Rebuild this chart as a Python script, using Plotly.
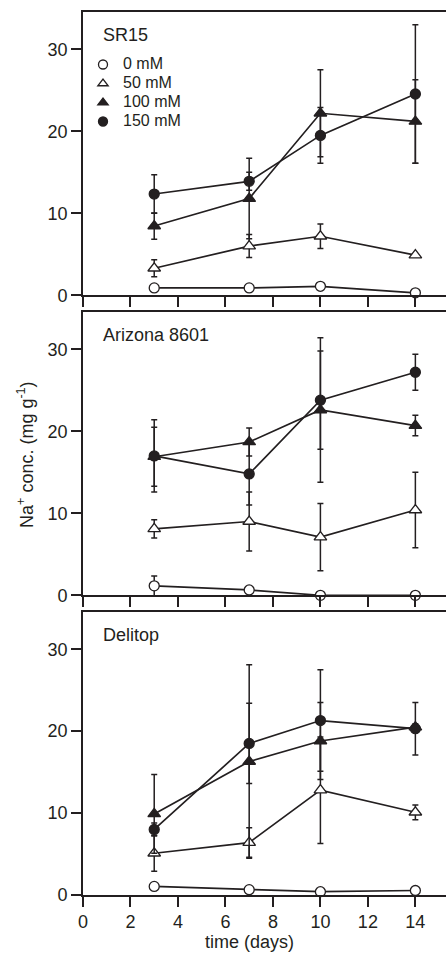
import plotly.graph_objects as go

# Sampling days and NaCl treatments
days = [3, 7, 10, 14]
treatments = ["0 mM", "50 mM", "100 mM", "150 mM"]
cultivars = ["SR15", "Arizona 8601", "Delitop"]

# Na+ concentration (mg g-1), mean and error, per cultivar and treatment
sr15_0 = [0.9, 0.9, 1.1, 0.3]
sr15_0_err = [0, 0, 0, 0]
sr15_50 = [3.3, 6.0, 7.2, 4.9]
sr15_50_err = [1.05, 1.4, 1.5, 0]
sr15_100 = [8.45, 11.8, 22.2, 21.2]
sr15_100_err = [1.6, 4.9, 5.3, 5.1]
sr15_150 = [12.35, 13.9, 19.5, 24.55]
sr15_150_err = [2.35, 1.1, 3.4, 8.45]

az_0 = [1.15, 0.65, 0.0, 0.0]
az_0_err = [1.2, 0, 0, 0]
az_50 = [8.1, 9.0, 7.1, 10.4]
az_50_err = [1.1, 3.6, 4.1, 4.6]
az_100 = [16.9, 18.7, 22.6, 20.7]
az_100_err = [3.6, 1.7, 8.8, 1.25]
az_150 = [17.0, 14.8, 23.8, 27.2]
az_150_err = [4.4, 3.8, 6.0, 2.2]

del_0 = [1.05, 0.65, 0.4, 0.55]
del_0_err = [0, 0, 0, 0]
del_50 = [5.1, 6.4, 12.8, 10.1]
del_50_err = [2.2, 1.8, 6.5, 0.9]
del_100 = [9.9, 16.3, 18.8, 20.5]
del_100_err = [4.8, 11.8, 4.7, 0.4]
del_150 = [8.0, 18.5, 21.3, 20.3]
del_150_err = [0.8, 4.9, 6.2, 3.2]

x_ticks = [0, 2, 4, 6, 8, 10, 12, 14]
y_ticks = [0, 10, 20, 30]

panels = [
    [(sr15_0, sr15_0_err), (sr15_50, sr15_50_err), (sr15_100, sr15_100_err), (sr15_150, sr15_150_err)],
    [(az_0, az_0_err), (az_50, az_50_err), (az_100, az_100_err), (az_150, az_150_err)],
    [(del_0, del_0_err), (del_50, del_50_err), (del_100, del_100_err), (del_150, del_150_err)],
]

INK = "#231f20"
FONT = "Liberation Sans, Arial, sans-serif"
symbols = ["circle", "triangle-up", "triangle-up", "circle"]
fills = ["white", "white", INK, INK]
sizes = [10, 11, 11, 10]

fig = go.Figure()

for p, series in enumerate(panels):
    ax = "" if p == 0 else str(p + 1)
    for t, (mean, err) in enumerate(series):
        fig.add_trace(go.Scatter(
            x=days, y=mean,
            xaxis="x" + ax, yaxis="y" + ax,
            mode="lines+markers",
            line=dict(color=INK, width=1.7),
            marker=dict(symbol=symbols[t], size=sizes[t], color=fills[t],
                        line=dict(color=INK, width=1.3)),
            error_y=dict(type="data", array=err, visible=True,
                         color=INK, thickness=1.5, width=3),
            cliponaxis=False,
            showlegend=False,
        ))

# Legend keys (markers only)
for t, name in enumerate(treatments):
    fig.add_trace(go.Scatter(
        x=[None], y=[None], mode="markers", name='<span style="font-size:16px">' + name + "</span>",
        marker=dict(symbol=symbols[t], size=9, color=fills[t],
                    line=dict(color=INK, width=1.3)),
        showlegend=True,
    ))

# Figure geometry
W, H = 446, 953
ML, MT, MB = 83, 12, 58
plot_h = H - MT - MB
tops = [12, 312, 612]
bottoms = [295.3, 595.3, 895]

def frac(py):
    return (H - MB - py) / plot_h

axis_common = dict(showgrid=False, zeroline=False, showline=True,
                   linecolor=INK, linewidth=1.7, ticks="outside",
                   tickcolor=INK, tickwidth=1.5, ticklen=10,
                   tickfont=dict(family=FONT, size=18, color=INK))

layout = dict(
    width=W, height=H,
    margin=dict(l=ML, r=0, t=MT, b=MB),
    paper_bgcolor="white", plot_bgcolor="white",
    font=dict(family=FONT, color=INK),
    legend=dict(x=0.0, y=frac(50), xanchor="left", yanchor="top",
                bgcolor="rgba(0,0,0,0)", borderwidth=0,
                font=dict(family=FONT, size=12, color=INK)),
)

annotations = []
for p in range(3):
    ax = "" if p == 0 else str(p + 1)
    layout["xaxis" + ax] = dict(
        axis_common, range=[0, 15.29], tickvals=x_ticks,
        showticklabels=(p == 2), mirror=True,
        anchor="y" + ax, domain=[0, 1],
    )
    layout["yaxis" + ax] = dict(
        axis_common, range=[0, 34.55], tickvals=y_ticks,
        anchor="x" + ax, domain=[frac(bottoms[p]), frac(tops[p])],
    )
    annotations.append(dict(
        text=cultivars[p], xref="paper", yref="y" + ax + " domain" if ax else "y domain",
        x=(101 - ML) / (W - ML), y=1 - (35 - 12) / 283.3,
        xanchor="left", yanchor="middle", showarrow=False,
        font=dict(family=FONT, size=18, color=INK),
    ))

annotations.append(dict(
    text="Na<sup>+</sup> conc. (mg g<sup>-1</sup>)",
    xref="paper", yref="paper",
    x=(25 - ML) / (W - ML), y=frac(455),
    xanchor="center", yanchor="middle", textangle=-90, showarrow=False,
    font=dict(family=FONT, size=18, color=INK),
))
annotations.append(dict(
    text="time (days)", xref="x3", yref="paper",
    x=7, y=frac(942), xanchor="center", yanchor="middle", showarrow=False,
    font=dict(family=FONT, size=18, color=INK),
))
layout["annotations"] = annotations

fig.update_layout(**layout)
fig.write_html("out.html")
